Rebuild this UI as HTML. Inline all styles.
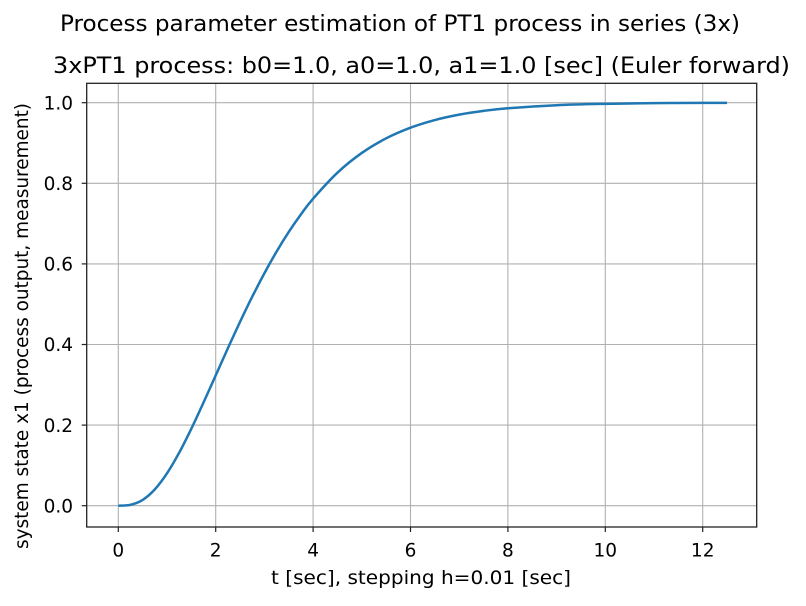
<!DOCTYPE html>
<html><head><meta charset="utf-8"><style>
body{margin:0;background:#fff;}
svg text{font-family:"DejaVu Sans","Liberation Sans",sans-serif;fill:#000;}
</style></head><body>
<svg width="806" height="601" viewBox="0 0 806 601">
<text x="60" y="31" font-size="22.5" textLength="680" lengthAdjust="spacingAndGlyphs">Process parameter estimation of PT1 process in series (3x)</text>
<text x="53" y="73" font-size="22.5" textLength="737" lengthAdjust="spacingAndGlyphs">3xPT1 process: b0=1.0, a0=1.0, a1=1.0 [sec] (Euler forward)</text>
<g id="grid"></g>
<g id="ticks"></g>
<path id="line" fill="none" stroke="#1f77b4" stroke-width="2.5"/>
<rect x="86.7" y="83.3" width="670" height="443.7" fill="none" stroke="#222" stroke-width="1.3"/>
<text x="271" y="584" font-size="19" textLength="300" lengthAdjust="spacingAndGlyphs">t [sec], stepping h=0.01 [sec]</text>
<text transform="translate(28,549) rotate(-90)" font-size="19" textLength="446" lengthAdjust="spacingAndGlyphs">system state x1 (process output, measurement)</text>
</svg>
<script>
const tVals=[0,0.25,0.5,0.75,1,1.25,1.5,1.75,2,2.25,2.5,2.75,3,3.25,3.5,3.75,4,4.5,5,5.5,6,6.5,7,7.5,8,9,10,11,12,12.5];
const yVals=[0,0.0022,0.0144,0.0405,0.0803,0.1315,0.1912,0.256,0.3233,0.3907,0.4562,0.5185,0.5768,0.6305,0.6792,0.7229,0.7619,0.8264,0.8753,0.9116,0.938,0.957,0.9704,0.9797,0.9862,0.9938,0.9972,0.9988,0.9995,0.9997];
const xTicks=[0,2,4,6,8,10,12];
const yTicks=[0.0,0.2,0.4,0.6,0.8,1.0];
const xs=t=>118.3+t*48.7;
const ys=v=>505.7-v*403;
const ns="http://www.w3.org/2000/svg";
const grid=document.getElementById('grid'),ticks=document.getElementById('ticks');
function mk(tag,attrs,parent){const e=document.createElementNS(ns,tag);for(const k in attrs)e.setAttribute(k,attrs[k]);parent.appendChild(e);return e;}
xTicks.forEach(t=>{const x=xs(t);
 const g=mk('line',{x1:x,x2:x,y1:83.3,y2:527,stroke:'#b0b0b0','stroke-width':1.1},grid);
 
 
 const tk=mk('line',{x1:x,x2:x,y1:527,y2:532,stroke:'#222','stroke-width':1.2},ticks);
 
 
 const tx=mk('text',{x:x,y:556.5,'font-size':18.5,'text-anchor':'middle'},ticks);tx.textContent=t;
 
 
});
yTicks.forEach(v=>{const y=ys(v);
 const g=mk('line',{x1:86.7,x2:756.7,y1:y,y2:y,stroke:'#b0b0b0','stroke-width':1.1},grid);
 
 
 const tk=mk('line',{x1:81.7,x2:86.7,y1:y,y2:y,stroke:'#222','stroke-width':1.2},ticks);
 
 
 const tx=mk('text',{x:73,y:y+6.7,'font-size':18.5,'text-anchor':'end'},ticks);tx.textContent=v.toFixed(1);
 
 
});
const P=tVals.map((t,i)=>[xs(t),ys(yVals[i])]);
let d='M'+P[0][0]+','+P[0][1];
for(let i=0;i<P.length-1;i++){const p0=P[Math.max(0,i-1)],p1=P[i],p2=P[i+1],p3=P[Math.min(P.length-1,i+2)];
 const c1=[p1[0]+(p2[0]-p0[0])/6,p1[1]+(p2[1]-p0[1])/6],c2=[p2[0]-(p3[0]-p1[0])/6,p2[1]-(p3[1]-p1[1])/6];
 d+=' C'+c1+' '+c2+' '+p2;}
document.getElementById('line').setAttribute('d',d);
</script>
</body></html>
